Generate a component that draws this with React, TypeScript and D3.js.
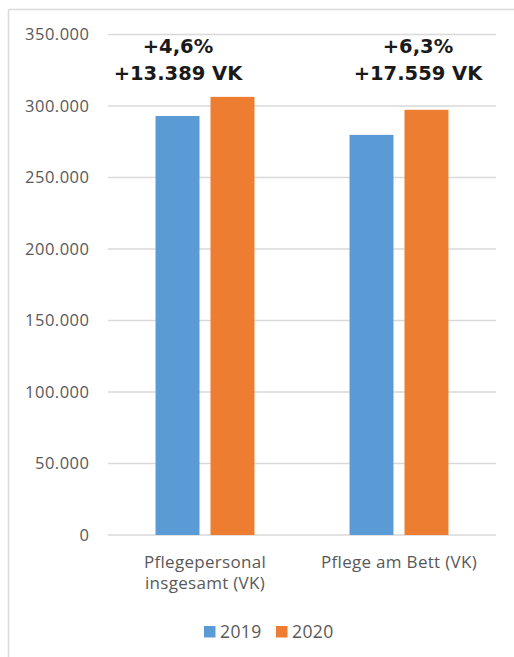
import React from "react";
import * as d3 from "d3";

const categories = [["Pflegepersonal", "insgesamt (VK)"], ["Pflege am Bett (VK)"]];
const categoryKeys = ["Pflegepersonal insgesamt (VK)", "Pflege am Bett (VK)"];
const seriesNames = ["2019", "2020"];
const values2019 = [293000, 279800];
const values2020 = [306389, 297359];
const annotationPct = ["+4,6%", "+6,3%"];
const annotationVK = ["+13.389 VK", "+17.559 VK"];
const yTicks = [0, 50000, 100000, 150000, 200000, 250000, 300000, 350000];
const yTickLabels = ["0", "50.000", "100.000", "150.000", "200.000", "250.000", "300.000", "350.000"];

const colors = ["#5B9BD5", "#ED7D31"];
const W = 514, H = 657;
const plotLeft = 108, plotRight = 496, plotTop = 34.5, plotBottom = 535;
const font = "'Open Sans', 'Noto Sans', sans-serif";
const boldFont = "'DejaVu Sans', Verdana, sans-serif";

export default function App() {
  const y = d3.scaleLinear().domain([0, 350000]).range([plotBottom, plotTop]);
  const x0 = d3.scaleBand().domain(categoryKeys).range([plotLeft, plotRight]).padding(0);
  const bw = x0.bandwidth();
  const x1 = d3.scaleBand().domain(seriesNames).range([bw * 0.245, bw * 0.755]).paddingInner(0.2).paddingOuter(0);
  const series = [values2019, values2020];
  return (
    <svg width={W} height={H} style={{ position: "absolute", left: 0, top: 0 }} fontFamily={font}>
      <rect x={0} y={0} width={W} height={H} fill="#fff" />
      <line x1={8.5} y1={9.5} x2={W} y2={9.5} stroke="#D9D9D9" strokeWidth={1.5} />
      <line x1={8.5} y1={9.5} x2={8.5} y2={H} stroke="#D9D9D9" strokeWidth={1.5} />
      {yTicks.map((t, i) => (
        <g key={t}>
          <line x1={plotLeft} x2={plotRight} y1={y(t)} y2={y(t)} stroke="#D9D9D9" strokeWidth={1.3} />
          <text x={89.5} y={y(t)} dy="0.36em" textAnchor="end" fontSize={16.5} fill="#595959" letterSpacing={0.5}>
            {yTickLabels[i]}
          </text>
        </g>
      ))}
      {categoryKeys.map((c, ci) => (
        <g key={c} transform={`translate(${x0(c)},0)`}>
          {seriesNames.map((s, si) => (
            <rect
              key={s}
              x={x1(s)}
              y={y(series[si][ci])}
              width={x1.bandwidth()}
              height={y(0) - y(series[si][ci])}
              fill={colors[si]}
            />
          ))}
          {categories[ci].map((line, li) => (
            <text key={li} x={bw / 2} y={568 + li * 21} textAnchor="middle" fontSize={17} fill="#595959" letterSpacing={0.3}>
              {line}
            </text>
          ))}
        </g>
      ))}
      {categoryKeys.map((c, ci) => {
        const cx = (x0(c) as number) + bw / 2 - (ci === 0 ? 27 : -19);
        return (
          <g key={"a" + c} fontFamily={boldFont}>
            <text x={cx} y={53} textAnchor="middle" fontSize={19.5} fontWeight="bold" fill="#1a1a1a">
              {annotationPct[ci]}
            </text>
            <text x={cx} y={80} textAnchor="middle" fontSize={19.5} fontWeight="bold" fill="#1a1a1a">
              {annotationVK[ci]}
            </text>
          </g>
        );
      })}
      {seriesNames.map((s, si) => (
        <g key={"l" + s} transform={`translate(${204 + si * 72},626)`}>
          <rect x={0} y={0} width={11.5} height={11.5} fill={colors[si]} />
          <text x={16} y={12} fontSize={17.5} fill="#595959" letterSpacing={0.4}>{s}</text>
        </g>
      ))}
    </svg>
  );
}
